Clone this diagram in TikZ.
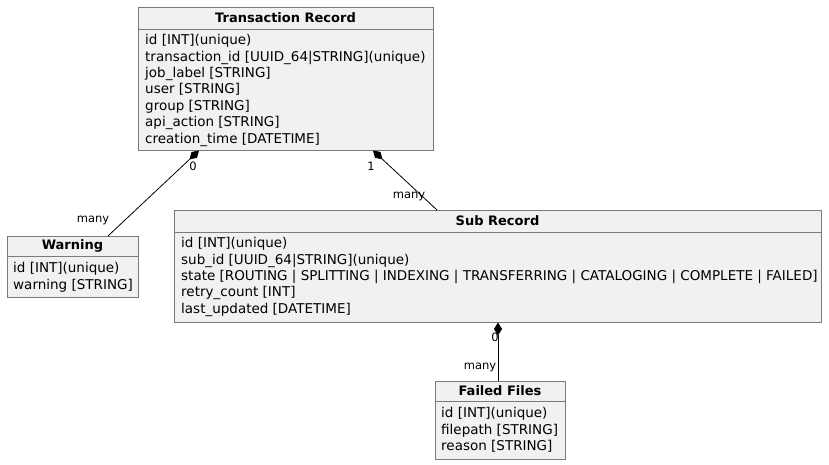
\documentclass[tikz,border=0pt]{standalone}
\usepackage{fontspec}
\setmainfont{DejaVu Sans}
\usetikzlibrary{arrows.meta}
\definecolor{boxfill}{HTML}{F1F1F1}
\definecolor{boxline}{HTML}{7A7A7A}
\tikzset{
  entity/.style={draw=boxline, fill=boxfill, line width=0.8pt, rectangle, inner sep=0pt},
  head/.style={font=\fontsize{13}{15}\selectfont\bfseries, inner sep=0pt, anchor=center},
  body/.style={font=\fontsize{13.5}{16.4}\selectfont, align=left, inner sep=0pt, anchor=north west},
  mult/.style={font=\fontsize{11.5}{13}\selectfont, inner sep=0pt},
  comp/.style={{Diamond[length=13pt,width=8pt,fill=black]}-, line width=0.8pt, black},
}
\begin{document}
\begin{tikzpicture}[x=1pt,y=-1pt]
\useasboundingbox (0,0) rectangle (829,465);
% Transaction Record
\node[entity, minimum width=295pt, minimum height=143pt] (tr) at (285.5,78.5) {};
\draw[boxline, line width=0.8pt] (tr.west |- 0,29) -- (tr.east |- 0,29);
\node[head] (trh) at (285.5,18) {Transaction Record};
\node[body] (trb) at (145,34.2) {id [INT](unique)\\transaction\_id [UUID\_64|STRING](unique)\\job\_label [STRING]\\user [STRING]\\group [STRING]\\api\_action [STRING]\\creation\_time [DATETIME]};
% Warning
\node[entity, minimum width=131pt, minimum height=61pt] (w) at (72.5,266.5) {};
\draw[boxline, line width=0.8pt] (w.west |- 0,256) -- (w.east |- 0,256);
\node[head] (wh) at (72.5,246) {Warning};
\node[body] (wb) at (13,262.2) {id [INT](unique)\\warning [STRING]};
% Sub Record
\node[entity, minimum width=647pt, minimum height=112pt] (sr) at (497.5,266) {};
\draw[boxline, line width=0.8pt] (sr.west |- 0,232) -- (sr.east |- 0,232);
\node[head] (srh) at (497.5,221) {Sub Record};
\node[body] (srb) at (181,237.2) {id [INT](unique)\\sub\_id [UUID\_64|STRING](unique)\\state [ROUTING | SPLITTING | INDEXING | TRANSFERRING | CATALOGING | COMPLETE | FAILED]\\retry\_count [INT]\\last\_updated [DATETIME]};
% Failed Files
\node[entity, minimum width=130pt, minimum height=78pt] (ff) at (500,420) {};
\draw[boxline, line width=0.8pt] (ff.west |- 0,401) -- (ff.east |- 0,401);
\node[head] (ffh) at (500,391) {Failed Files};
\node[body] (ffb) at (441,407.2) {id [INT](unique)\\filepath [STRING]\\reason [STRING]};
% connectors
\coordinate (trw) at (199,150.5);
\coordinate (wt) at (108,236);
\coordinate (trs) at (373,150.5);
\coordinate (st) at (437,210);
\coordinate (sf) at (498,322.5);
\coordinate (fs) at (498,381);
\draw[comp] (trw) -- (wt);
\draw[comp] (trs) -- (st);
\draw[comp] (sf) -- (fs);
\node[mult] (m1) at (193,166) {0};
\node[mult] (m2) at (93,220) {many};
\node[mult] (m3) at (371,166) {1};
\node[mult] (m4) at (409,196) {many};
\node[mult] (m5) at (495,337) {0};
\node[mult] (m6) at (480,367) {many};
\end{tikzpicture}
\end{document}
